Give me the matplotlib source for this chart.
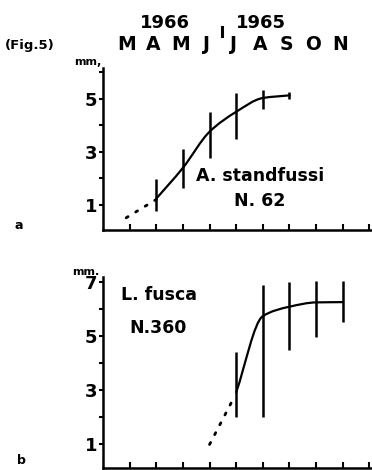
import numpy as np
import matplotlib
matplotlib.use("Agg")
import matplotlib.pyplot as plt
from matplotlib.path import Path
from matplotlib.patches import PathPatch
from matplotlib.lines import Line2D
import matplotlib.transforms as mtransforms

# ---------------- data ----------------
months = ["M", "A", "M", "J", "J", "A", "S", "O", "N"]
month_pos = [1, 2, 3, 4, 5, 6, 7, 8, 9]

# panel a: A. standfussi
a_x = [2, 3, 4, 5, 6, 7]
a_mean = [1.23, 2.39, 3.75, 4.5, 5.02, 5.12]
a_low = [0.77, 1.64, 2.77, 3.48, 4.6, 5.0]
a_high = [1.98, 3.1, 4.5, 5.21, 5.32, 5.25]
a_dot_x = [0.87, 2.0]
a_dot_y = [0.51, 1.2]

# panel b: L. fusca
b_x = [5, 6, 7, 8, 9]
b_mean = [2.93, 5.75, 6.1, 6.26, 6.27]
b_low = [2.03, 2.03, 4.51, 4.98, 5.52]
b_high = [4.44, 6.92, 7.03, 7.07, 7.07]
b_dot_x = [4.0, 4.95]
b_dot_y = [1.0, 2.8]

W, H = 372, 470
fig = plt.figure(figsize=(W / 100, H / 100), dpi=100)

BOLD = dict(fontweight="bold", family="DejaVu Sans")
LW = 1.6


def smooth_path(xs, ys):
    """Monotone cubic (PCHIP-style) Bezier path through the data points."""
    xs = np.asarray(xs, float)
    ys = np.asarray(ys, float)
    n = len(xs)
    h = np.diff(xs)
    d = np.diff(ys) / h
    m = np.zeros(n)
    for i in range(1, n - 1):
        if d[i - 1] * d[i] > 0:
            m[i] = 2 * d[i - 1] * d[i] / (d[i - 1] + d[i])
    m[0] = d[0]
    m[-1] = d[-1]
    verts = [(xs[0], ys[0])]
    codes = [Path.MOVETO]
    for i in range(n - 1):
        c1 = (xs[i] + h[i] / 3, ys[i] + m[i] * h[i] / 3)
        c2 = (xs[i + 1] - h[i] / 3, ys[i + 1] - m[i + 1] * h[i] / 3)
        verts += [c1, c2, (xs[i + 1], ys[i + 1])]
        codes += [Path.CURVE4] * 3
    return Path(verts, codes)


def style_axes(ax, ylim, majors, minors):
    ax.set_xlim(0, 10.1)
    ax.set_ylim(*ylim)
    for s in ["top", "right"]:
        ax.spines[s].set_visible(False)
    for s in ["left", "bottom"]:
        ax.spines[s].set_linewidth(1.8)
    ax.set_xticks(range(1, 11))
    ax.set_xticklabels([])
    ax.tick_params(axis="x", direction="in", length=4, width=1.5)
    ax.set_yticks(majors)
    ax.set_yticklabels([str(v) for v in majors], fontsize=13, fontweight="bold")
    ax.set_yticks(minors, minor=True)
    ax.tick_params(axis="y", which="both", direction="out", length=3, width=1.5, pad=1)
    ax.patch.set_visible(False)


def draw_series(ax, xs, mean, low, high, dx, dy):
    ax.add_patch(PathPatch(smooth_path(xs, mean), fill=False, lw=LW, color="black",
                           capstyle="round"))
    lower = np.array(mean) - np.array(low)
    upper = np.array(high) - np.array(mean)
    ax.errorbar(xs, mean, yerr=[lower, upper], fmt="none", ecolor="black",
                elinewidth=1.8, capsize=0)
    ax.plot(dx, dy, color="black", lw=2.0, linestyle=(0, (0.8, 3.2)),
            dash_capstyle="round")


# ---------------- panel a ----------------
axa = fig.add_axes([103 / W, 1 - 230 / H, 1 - 103 / W, (230 - 68) / H])
style_axes(axa, (0.05, 6.15), [1, 3, 5], [2, 4, 6])
draw_series(axa, a_x, a_mean, a_low, a_high, a_dot_x, a_dot_y)
axa.text(5.9, 2.1, "A. standfussi", ha="center", va="center", fontsize=12.5, **BOLD)
axa.text(5.9, 1.15, "N. 62", ha="center", va="center", fontsize=12.5, **BOLD)

# ---------------- panel b ----------------
axb = fig.add_axes([103 / W, 1 - 468 / H, 1 - 103 / W, (468 - 277) / H])
style_axes(axb, (0.13, 7.2), [1, 3, 5, 7], [2, 4, 6])
draw_series(axb, b_x, b_mean, b_low, b_high, b_dot_x, b_dot_y)
axb.text(2.1, 6.55, "L. fusca", ha="center", va="center", fontsize=12.5, **BOLD)
axb.text(2.05, 5.3, "N.360", ha="center", va="center", fontsize=12.5, **BOLD)

# ---------------- header ----------------
trans = mtransforms.blended_transform_factory(axa.transData, fig.transFigure)
for m, p in zip(months, month_pos):
    fig.text(p - 0.1, 1 - 45 / H, m, transform=trans, ha="center", va="center",
             fontsize=13.5, **BOLD)
fig.text(165 / W, 1 - 23 / H, "1966", ha="center", va="center", fontsize=13, **BOLD)
fig.text(261 / W, 1 - 23 / H, "1965", ha="center", va="center", fontsize=13, **BOLD)
fig.add_artist(Line2D([222 / W, 222 / W], [1 - 27 / H, 1 - 36 / H], color="black",
                      lw=2.2, transform=fig.transFigure))
fig.text(30 / W, 1 - 46 / H, "(Fig.5)", ha="center", va="center", fontsize=9.5, **BOLD)

fig.text(88 / W, 1 - 62 / H, "mm,", ha="center", va="center", fontsize=8, **BOLD)
fig.text(86 / W, 1 - 272 / H, "mm.", ha="center", va="center", fontsize=8, **BOLD)
fig.text(19 / W, 1 - 225 / H, "a", ha="center", va="center", fontsize=9, **BOLD)
fig.text(21 / W, 1 - 461 / H, "b", ha="center", va="center", fontsize=9, **BOLD)

fig.savefig("out.png", dpi=100)
